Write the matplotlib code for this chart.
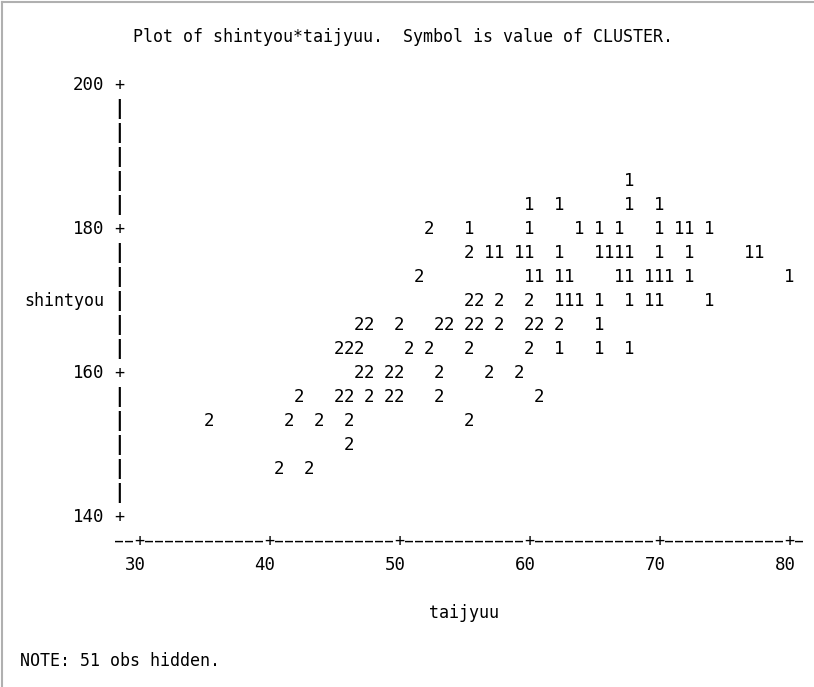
import matplotlib.pyplot as plt
from matplotlib.lines import Line2D

# SAS line-printer plot: shintyou (height) vs taijyuu (weight), symbol = CLUSTER
taijyuu = [67.7,
           60.0, 62.3, 67.7, 70.0,
           52.3, 55.4, 60.0, 63.8, 65.4, 66.9, 70.0, 71.5, 72.3, 73.8,
           55.4, 56.9, 57.7, 59.2, 60.0, 62.3, 65.4, 66.2, 66.9, 67.7, 70.0, 72.3, 76.9, 77.7,
           51.5, 60.0, 60.8, 62.3, 63.1, 66.9, 67.7, 69.2, 70.0, 70.8, 72.3, 80.0,
           55.4, 56.2, 57.7, 60.0, 62.3, 63.1, 63.8, 65.4, 67.7, 69.2, 70.0, 73.8,
           46.9, 47.7, 50.0, 53.1, 53.8, 55.4, 56.2, 57.7, 60.0, 60.8, 62.3, 65.4,
           45.4, 46.2, 46.9, 50.8, 52.3, 55.4, 60.0, 62.3, 65.4, 67.7,
           46.9, 47.7, 49.2, 50.0, 53.1, 56.9, 59.2,
           42.3, 45.4, 46.2, 47.7, 49.2, 50.0, 53.1, 60.8,
           35.4, 41.5, 43.8, 46.2, 55.4,
           46.2,
           40.8, 43.1]
shintyou = ([186.7] * 1 + [183.3] * 4 + [180.0] * 10 + [176.7] * 14 + [173.3] * 12
            + [170.0] * 12 + [166.7] * 12 + [163.3] * 10 + [160.0] * 7 + [156.7] * 8
            + [153.3] * 5 + [150.0] * 1 + [146.7] * 2)
cluster = [1,
           1, 1, 1, 1,
           2, 1, 1, 1, 1, 1, 1, 1, 1, 1,
           2, 1, 1, 1, 1, 1, 1, 1, 1, 1, 1, 1, 1, 1,
           2, 1, 1, 1, 1, 1, 1, 1, 1, 1, 1, 1,
           2, 2, 2, 2, 1, 1, 1, 1, 1, 1, 1, 1,
           2, 2, 2, 2, 2, 2, 2, 2, 2, 2, 2, 1,
           2, 2, 2, 2, 2, 2, 2, 1, 1, 1,
           2, 2, 2, 2, 2, 2, 2,
           2, 2, 2, 2, 2, 2, 2, 2,
           2, 2, 2, 2, 2,
           2,
           2, 2]

xticks = [30, 40, 50, 60, 70, 80]
yticks = [140, 160, 180, 200]
title = "Plot of shintyou*taijyuu.  Symbol is value of CLUSTER."
note = "NOTE: 51 obs hidden."

# printer grid: 13 columns per 10 units across, 6 lines per 20 units down
cw = 10 / 13
rh = 10 / 3
mono = 'DejaVu Sans Mono'
fs = 12

fig = plt.figure(figsize=(8.14, 6.87), dpi=100)
ax = fig.add_axes([0, 0, 1, 1])
# 30 -> 139px, 13 px per unit ; 200 -> 85px, 7.2 px per unit
ax.set_xlim(30 - 139 / 13, 30 + (814 - 139) / 13)
ax.set_ylim(200 - (687 - 85) / 7.2, 200 + 85 / 7.2)
ax.axis('off')

def snap_x(v):
    return 30 + round((v - 30) / cw) * cw

def snap_y(v):
    return 200 - round((200 - v) / rh) * rh

# symbols
for x, y, c in zip(taijyuu, shintyou, cluster):
    ax.text(snap_x(x), snap_y(y), str(c), family=mono, fontsize=12.5,
            ha='center', va='center')

# vertical axis
xa = 30 - 2 * cw
nrows = round((yticks[-1] - yticks[0]) / rh)
for i in range(nrows + 1):
    y = yticks[0] + i * rh
    if any(abs(y - t) < 1e-6 for t in yticks):
        ax.text(xa, y, '+', family=mono, fontsize=fs, ha='center', va='center')
        ax.text(30 - 3.5 * cw, y, str(int(round(y))), family=mono, fontsize=12.5,
                ha='right', va='center')
    else:
        ax.text(xa, y, '|', family=mono, fontsize=fs + 2, fontweight='bold',
                ha='center', va='center')
ax.text(30 - 3.5 * cw, 170, 'shintyou', family=mono, fontsize=fs,
        ha='right', va='center')

# horizontal axis
yax = yticks[0] - rh
ncols = round((xticks[-1] - xticks[0]) / cw)
for j in range(-2, ncols + 2):
    x = 30 + j * cw
    if j % 13 == 0 and 0 <= j <= ncols:
        ax.text(x, yax, '+', family=mono, fontsize=fs, ha='center', va='center')
    else:
        ax.text(x, yax, '\u2013', family=mono, fontsize=9.5, fontweight='bold',
                ha='center', va='center')
for t in xticks:
    ax.text(t - 0.3, yticks[0] - 2 * rh, str(t), family=mono, fontsize=12.5,
            ha='center', va='center')
ax.text(55, yticks[0] - 4 * rh, 'taijyuu', family=mono, fontsize=fs,
        ha='center', va='center')

ax.text(30 - 6 / 13, 200 + 2 * rh, title, family=mono, fontsize=fs,
        ha='left', va='center')
ax.text(30 - 119 / 13, yticks[0] - 6 * rh, note, family=mono, fontsize=fs,
        ha='left', va='center')

# window border of the output viewer
fig.add_artist(Line2D([0.003, 0.003], [0, 0.997], transform=fig.transFigure,
                      color='#b0b0b0', lw=1.5))
fig.add_artist(Line2D([0.003, 1], [0.997, 0.997], transform=fig.transFigure,
                      color='#b0b0b0', lw=1.5))

fig.savefig('out.png', dpi=100, facecolor='white')
